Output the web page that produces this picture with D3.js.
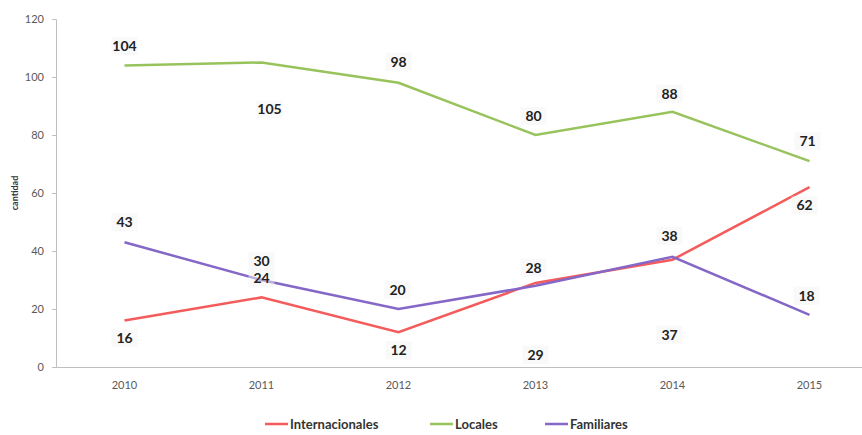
<!DOCTYPE html>
<html>
<head>
<meta charset="utf-8">
<script src="https://cdn.jsdelivr.net/npm/d3@7"></script>
<style>
  body { margin: 0; background: #fff; }
  text { font-family: Lato, "Open Sans", sans-serif; }
</style>
</head>
<body>
<svg id="chart" width="862" height="435"></svg>
<script>
var years = ["2010", "2011", "2012", "2013", "2014", "2015"];
var internacionales = [16, 24, 12, 29, 37, 62];
var locales = [104, 105, 98, 80, 88, 71];
var familiares = [43, 30, 20, 28, 38, 18];
var yTicks = [0, 20, 40, 60, 80, 100, 120];

// where each data label sits relative to its point (px, negative = above)
var labelDy = {
  Internacionales: [17, -19, 18, 72, 75, 18],
  Locales: [-19, 47, -21, -19, -18, -20],
  Familiares: [-20, -19, -19, -18, -21, -19]
};
var labelDx = {
  Internacionales: [0, 0, 0, 0, -3, -5],
  Locales: [0, 8, 0, -2, -3, -2],
  Familiares: [0, 0, -1, -2, -3, -3]
};

var series = [
  {name: "Internacionales", values: internacionales, color: "#F45B5B"},
  {name: "Locales", values: locales, color: "#98C35C"},
  {name: "Familiares", values: familiares, color: "#8467C6"}
];

var svg = d3.select("#chart");
var mLeft = 56, mTop = 19, mBottom = 367;

var x = d3.scaleBand()
  .domain(years)
  .range([mLeft, mLeft + 137 * years.length]);

var y = d3.scaleLinear()
  .domain([0, 120])
  .range([mBottom, mTop]);

// y axis
var yAxis = svg.append("g")
  .attr("transform", "translate(" + mLeft + ",0)")
  .call(d3.axisLeft(y).tickValues(yTicks).tickSize(4).tickPadding(8));
yAxis.select(".domain").attr("stroke", "#BFBFBF");
yAxis.selectAll(".tick line").attr("stroke", "#BFBFBF");
yAxis.selectAll(".tick text").attr("fill", "#595959").style("font-size", "11px");

// x axis
var xAxis = svg.append("g")
  .attr("transform", "translate(0," + mBottom + ")")
  .call(d3.axisBottom(x).tickSize(0).tickPadding(14));
xAxis.select(".domain").attr("stroke", "#BFBFBF");
xAxis.selectAll(".tick text").attr("fill", "#595959").style("font-size", "11px");

svg.append("text")
  .attr("transform", "translate(18," + ((mTop + mBottom) / 2) + ") rotate(-90)")
  .attr("text-anchor", "middle")
  .style("font-size", "9px")
  .style("font-weight", "bold")
  .attr("fill", "#333")
  .text("cantidad");

var line = d3.line()
  .x(function(d, i) { return x(years[i]) + x.bandwidth() / 2; })
  .y(function(d) { return y(d); });

series.forEach(function(s) {
  svg.append("path")
    .datum(s.values)
    .attr("fill", "none")
    .attr("stroke", s.color)
    .attr("stroke-width", 2.5)
    .attr("d", line);
});

// data labels
series.forEach(function(s) {
  var g = svg.append("g");
  s.values.forEach(function(v, i) {
    var cx = x(years[i]) + x.bandwidth() / 2 + labelDx[s.name][i];
    var cy = y(v) + labelDy[s.name][i];
    g.append("rect")
      .attr("x", cx - 13)
      .attr("y", cy - 9)
      .attr("width", 26)
      .attr("height", 18)
      .attr("fill", "#F4F4F4")
      .attr("opacity", 0.5);
    g.append("text")
      .attr("x", cx)
      .attr("y", cy)
      .attr("dy", "0.35em")
      .attr("text-anchor", "middle")
      .style("font-size", "14px")
      .style("font-weight", "bold")
      .attr("fill", "#222")
      .text(v);
  });
});

// legend
var legendX = [265, 430, 545];
var legend = svg.append("g");
series.forEach(function(s, i) {
  legend.append("line")
    .attr("x1", legendX[i]).attr("x2", legendX[i] + 23)
    .attr("y1", 424).attr("y2", 424)
    .attr("stroke", s.color)
    .attr("stroke-width", 2.5);
  legend.append("text")
    .attr("x", legendX[i] + 25)
    .attr("y", 424)
    .attr("dy", "0.35em")
    .style("font-size", "13px")
    .style("font-weight", "bold")
    .attr("fill", "#333")
    .text(s.name);
});
</script>
</body>
</html>
